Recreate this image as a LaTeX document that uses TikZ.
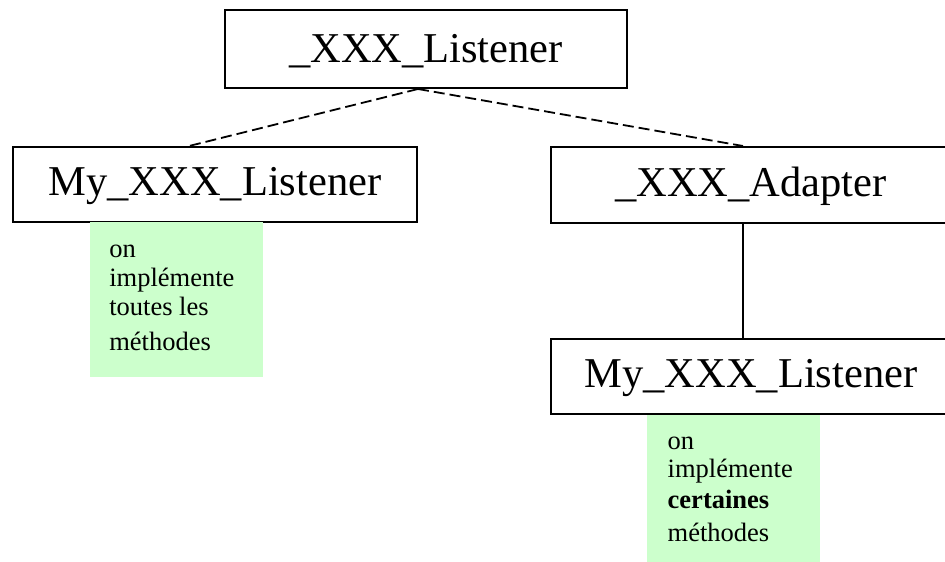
\documentclass[tikz,border=0pt]{standalone}
\usepackage{fontspec}
\setmainfont{Liberation Serif}
\definecolor{notegreen}{HTML}{CCFFCC}
\begin{document}
\begin{tikzpicture}[x=1pt,y=-1pt,
  box/.style={draw=black,line width=2pt,rectangle,inner sep=0pt,
    font=\fontsize{42.5}{50}\selectfont,text height=32pt,text depth=10pt},
  note/.style={fill=notegreen,inner sep=0pt,rectangle},
  notetext/.style={anchor=base west,inner sep=0pt,font=\fontsize{26.5}{30}\selectfont},
  link/.style={line width=1.8pt,dash pattern=on 11pt off 5pt},
  tie/.style={line width=1.8pt}]
\useasboundingbox (0,0) rectangle (945,562);
% boxes
\node[box,minimum width=402pt,minimum height=78pt,text depth=6pt] (top) at (426,49) {\_XXX\_Listener};
\node[box,minimum width=404pt,minimum height=75pt] (left) at (215,184.5) {My\_XXX\_Listener};
\node[box,minimum width=400pt,minimum height=76pt] (adapter) at (751,185) {\_XXX\_Adapter};
\node[box,minimum width=400pt,minimum height=75pt] (bottom) at (751,376.5) {My\_XXX\_Listener};
% connectors
\draw[link] ([xshift=-8pt]top.south) -- ([xshift=-26pt]left.north);
\draw[link] ([xshift=-8pt]top.south) -- ([xshift=-8pt]adapter.north);
\draw[tie] ([xshift=-8pt]adapter.south) -- ([xshift=-8pt]bottom.north);
% notes
\node[note,minimum width=173pt,minimum height=155pt] (noteL) at (176.5,299.5) {};
\node[notetext] (l1) at ([xshift=19.3pt,yshift=-35.3pt]noteL.north west) {on};
\node[notetext] (l2) at ([xshift=19.3pt,yshift=-64.7pt]noteL.north west) {implémente};
\node[notetext] (l3) at ([xshift=19.3pt,yshift=-93.7pt]noteL.north west) {toutes les};
\node[notetext] (l4) at ([xshift=19.3pt,yshift=-128.7pt]noteL.north west) {méthodes};
\node[note,minimum width=173pt,minimum height=152pt] (noteR) at (733.5,491) {};
\node[notetext] (r1) at ([xshift=20.7pt,yshift=-34.3pt]noteR.north west) {on};
\node[notetext] (r2) at ([xshift=20.7pt,yshift=-62.7pt]noteR.north west) {implémente};
\node[notetext] (r3) at ([xshift=20.7pt,yshift=-94pt]noteR.north west) {\textbf{certaines}};
\node[notetext] (r4) at ([xshift=20.7pt,yshift=-126.7pt]noteR.north west) {méthodes};
\end{tikzpicture}
\end{document}
